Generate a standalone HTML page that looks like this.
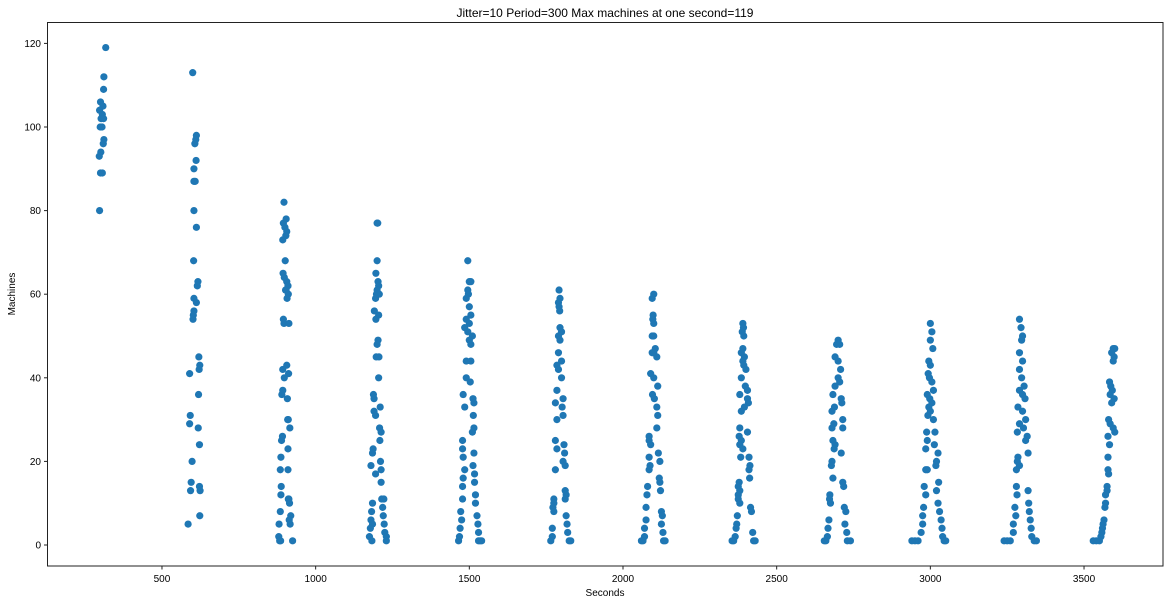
<!DOCTYPE html>
<html><head><meta charset="utf-8"><style>
html,body{margin:0;padding:0;background:#fff;}
svg{display:block;font-family:"Liberation Sans","DejaVu Sans",sans-serif;}
</style></head><body>
<svg id="chart" width="1170" height="604" xmlns="http://www.w3.org/2000/svg">
<text x="605" y="17" text-anchor="middle" font-size="12" fill="#000">Jitter=10 Period=300 Max machines at one second=119</text>
<g id="ticks"></g>
<g id="points"></g>
<rect x="47.5" y="22.5" width="1115.5" height="543.5" fill="none" stroke="#222" stroke-width="1"/>
<text x="605" y="596" text-anchor="middle" font-size="10" fill="#000">Seconds</text>
<text x="15" y="294" text-anchor="middle" font-size="10" fill="#000" transform="rotate(-90 15 294)">Machines</text>
</svg>
<script>
const xTicks = [500,1000,1500,2000,2500,3000,3500];
const yTicks = [0,20,40,60,80,100,120];
const c1 = [[317,119],[311,112],[310,109],[300,106],[308,105],[297,104],[306,103],[302,102],[310,102],[299,100],[305,100],[311,97],[309,96],[301,94],[296,93],[300,89],[306,89],[297,80]];
const c2 = [[600,113],[612,98],[610,97],[607,96],[611,92],[604,90],[604,87],[608,87],[604,80],[612,76],[603,68],[617,63],[615,62],[604,59],[612,58],[604,56],[602,55],[601,54],[620,45],[623,43],[621,42],[590,41],[619,36],[592,31],[590,29],[618,28],[622,24],[598,20],[595,15],[622,14],[593,13],[624,13],[623,7],[585,5]];
const c3 = [[897,82],[904,78],[895,77],[900,76],[906,75],[903,74],[893,73],[901,68],[894,65],[898,64],[906,63],[910,62],[902,61],[904,61],[911,60],[907,59],[895,54],[897,53],[913,53],[906,43],[893,42],[912,41],[898,40],[893,37],[890,36],[908,35],[911,30],[909,30],[916,28],[892,26],[889,25],[910,23],[887,21],[885,18],[910,18],[888,14],[887,12],[911,11],[913,11],[915,10],[885,8],[919,7],[914,6],[881,5],[917,5],[880,2],[883,1],[886,1],[925,1]];
const c4 = [[1200,77],[1202,77],[1200,68],[1196,65],[1203,63],[1205,62],[1200,61],[1198,60],[1207,60],[1195,59],[1191,56],[1205,55],[1196,54],[1203,49],[1200,48],[1197,45],[1206,45],[1205,40],[1188,36],[1190,35],[1210,33],[1190,32],[1195,31],[1208,28],[1213,27],[1209,25],[1187,23],[1185,22],[1211,20],[1180,19],[1213,18],[1195,17],[1213,15],[1215,11],[1222,11],[1185,10],[1218,9],[1182,8],[1220,7],[1180,6],[1223,5],[1185,5],[1178,4],[1225,3],[1175,2],[1230,2],[1230,1],[1183,1]];
const c5 = [[1495,68],[1500,63],[1505,63],[1495,61],[1497,60],[1490,59],[1500,57],[1505,55],[1490,54],[1500,53],[1485,52],[1495,51],[1510,50],[1500,49],[1505,48],[1490,44],[1505,44],[1490,40],[1503,39],[1480,36],[1512,35],[1515,34],[1485,33],[1513,31],[1515,28],[1510,27],[1478,25],[1478,23],[1515,22],[1480,21],[1512,19],[1485,18],[1517,17],[1480,16],[1517,15],[1478,14],[1520,12],[1478,11],[1520,10],[1472,8],[1525,7],[1475,6],[1528,5],[1470,4],[1530,3],[1468,2],[1530,1],[1535,1],[1465,1],[1540,1]];
const c6 = [[1792,61],[1795,59],[1790,58],[1792,57],[1794,56],[1795,52],[1800,51],[1790,50],[1795,49],[1790,46],[1800,44],[1785,43],[1790,42],[1800,40],[1785,37],[1805,35],[1780,34],[1802,33],[1805,31],[1785,30],[1780,25],[1808,24],[1785,23],[1810,22],[1805,20],[1812,19],[1780,18],[1812,13],[1815,12],[1775,11],[1812,11],[1775,10],[1772,9],[1775,8],[1815,7],[1818,5],[1770,4],[1820,3],[1770,2],[1825,1],[1765,1],[1830,1]];
const c7 = [[2100,60],[2095,59],[2098,55],[2097,54],[2100,53],[2095,50],[2100,50],[2105,47],[2095,46],[2100,46],[2110,45],[2090,41],[2100,40],[2113,38],[2096,36],[2102,35],[2110,33],[2113,31],[2110,28],[2085,26],[2085,25],[2090,24],[2115,22],[2085,21],[2120,20],[2088,19],[2085,18],[2118,16],[2120,15],[2080,14],[2122,13],[2078,12],[2075,9],[2125,8],[2128,7],[2075,6],[2125,5],[2070,4],[2130,3],[2070,2],[2065,1],[2132,1],[2060,1],[2137,1]];
const c8 = [[2390,53],[2392,52],[2388,51],[2393,50],[2390,47],[2385,46],[2395,45],[2390,44],[2393,43],[2400,42],[2385,40],[2398,38],[2405,37],[2380,36],[2405,35],[2408,34],[2395,33],[2385,32],[2380,28],[2405,27],[2378,26],[2385,25],[2380,24],[2390,23],[2383,21],[2410,21],[2413,19],[2410,18],[2412,16],[2378,15],[2375,14],[2380,13],[2375,12],[2375,11],[2380,10],[2415,9],[2418,8],[2372,7],[2370,5],[2368,4],[2422,3],[2365,2],[2425,1],[2360,1],[2355,1],[2430,1]];
const c9 = [[2700,49],[2695,48],[2705,48],[2690,45],[2700,44],[2708,42],[2700,40],[2705,39],[2690,38],[2683,36],[2710,35],[2712,34],[2688,33],[2680,32],[2715,30],[2686,29],[2680,28],[2715,28],[2683,25],[2690,24],[2687,23],[2710,22],[2680,20],[2678,19],[2683,16],[2715,15],[2718,14],[2673,12],[2672,11],[2675,10],[2720,9],[2725,8],[2670,6],[2722,5],[2667,4],[2728,3],[2665,2],[2730,1],[2660,1],[2655,1],[2740,1]];
const c10 = [[3000,53],[3005,51],[3000,49],[3008,47],[2995,44],[3000,43],[2993,41],[2997,40],[3005,39],[3010,37],[2990,36],[2998,35],[3005,34],[2995,33],[3000,32],[2992,31],[3010,30],[3015,27],[2988,27],[2990,25],[3013,24],[2985,23],[3025,22],[3020,20],[3018,19],[2985,18],[2990,18],[3027,15],[2980,14],[3020,13],[2985,12],[3025,10],[2978,9],[3030,8],[2975,7],[3035,6],[2975,5],[3038,4],[2970,3],[3040,2],[2960,1],[2950,1],[3045,1],[3050,1],[2940,1]];
const c11 = [[3290,54],[3295,52],[3300,50],[3297,49],[3290,46],[3300,44],[3290,42],[3297,40],[3305,38],[3290,37],[3300,36],[3308,35],[3285,33],[3300,32],[3310,30],[3290,29],[3303,28],[3283,27],[3315,26],[3310,25],[3318,22],[3285,21],[3283,20],[3290,19],[3280,18],[3280,14],[3318,13],[3282,12],[3320,10],[3275,9],[3322,8],[3278,7],[3325,6],[3270,5],[3328,4],[3270,3],[3330,2],[3260,1],[3250,1],[3338,1],[3345,1],[3240,1]];
const c12 = [[3595,47],[3600,47],[3590,46],[3598,45],[3595,44],[3583,39],[3587,38],[3592,37],[3585,36],[3598,35],[3590,34],[3580,30],[3585,29],[3595,28],[3600,27],[3578,26],[3583,24],[3578,21],[3578,18],[3580,17],[3575,14],[3575,13],[3570,12],[3570,10],[3568,9],[3565,6],[3562,5],[3560,4],[3558,3],[3555,2],[3540,1],[3530,1],[3550,1]];
const clusters = [c1,c2,c3,c4,c5,c6,c7,c8,c9,c10,c11,c12];

const NS = "http://www.w3.org/2000/svg";
function xScale(v){ return 8.3 + v * 0.30735; }
function yScale(v){ return 545 - v * 4.18; }
const tg = document.getElementById('ticks');
const pg = document.getElementById('points');

xTicks.forEach(t => {
  const x = xScale(t);
  const l = document.createElementNS(NS,'line');
  
  
  l.setAttribute('x1', x); l.setAttribute('x2', x);
  l.setAttribute('y1', 566); l.setAttribute('y2', 569.5);
  l.setAttribute('stroke', '#222');
  tg.appendChild(l);
  const tx = document.createElementNS(NS,'text');
  
  
  tx.setAttribute('x', x); tx.setAttribute('y', 582);
  tx.setAttribute('text-anchor', 'middle');
  tx.setAttribute('font-size', '10');
  tx.textContent = t;
  tg.appendChild(tx);
});
yTicks.forEach(t => {
  const y = yScale(t);
  const l = document.createElementNS(NS,'line');
  
  
  l.setAttribute('x1', 44); l.setAttribute('x2', 47.5);
  l.setAttribute('y1', y); l.setAttribute('y2', y);
  l.setAttribute('stroke', '#222');
  tg.appendChild(l);
  const tx = document.createElementNS(NS,'text');
  
  
  tx.setAttribute('x', 41); tx.setAttribute('y', y + 3.5);
  tx.setAttribute('text-anchor', 'end');
  tx.setAttribute('font-size', '10');
  tx.textContent = t;
  tg.appendChild(tx);
});
clusters.forEach(c => {
  c.forEach(p => {
    const ci = document.createElementNS(NS,'circle');
    
    
    ci.setAttribute('cx', xScale(p[0]));
    ci.setAttribute('cy', yScale(p[1]));
    ci.setAttribute('r', 3.6);
    ci.setAttribute('fill', '#1f77b4');
    pg.appendChild(ci);
  });
});
</script>
</body></html>
